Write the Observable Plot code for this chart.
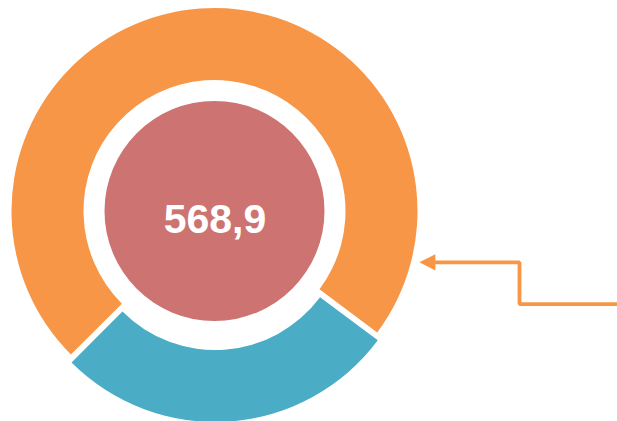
<!DOCTYPE html>
<html>
<head>
<meta charset="utf-8">
<script src="https://cdn.jsdelivr.net/npm/d3@7"></script>
<script src="https://cdn.jsdelivr.net/npm/@observablehq/plot@0.6"></script>
<style>
  html, body { margin: 0; padding: 0; background: #ffffff; overflow: hidden; }
</style>
</head>
<body>
<div id="chart"></div>
<script>
// ---- data ----
const categories = ["Segment A", "Segment B"];
const values = [413.6, 155.3];
const total = d3.sum(values);            // shown in the centre: 568,9
const exploded = [false, true];

// ---- styles / layout (not data) ----
const sliceColors = ["#F79646", "#4BACC6"];
const centerColor = "#CD7371";
const W = 617, H = 421;
const R = 203;                 // outer radius in px (1 unit)
const cxPx = 214.5, cyPx = 211;
const innerFrac = 131 / 203;
const centerFrac = 110 / 203;
const explodePx = 8;
const startAngle = 225 * Math.PI / 180;

// callout annotation, in radius units (centre = 0,0)
const calloutPath = [
  {x: 2.05, y: -0.456},
  {x: 1.5,  y: -0.456},
  {x: 1.5,  y: -0.251},
  {x: 1.07, y: -0.251}
];
const arrowHead = [
  {x: 1.009, y1: -0.253, y2: -0.253},
  {x: 1.088, y1: -0.293, y2: -0.213}
];

const slices = categories.map((c, i) => ({category: c, value: values[i], exploded: exploded[i]}));

const color = Plot.scale({color: {type: "ordinal", domain: categories, range: sliceColors}});

function donut(index, scales, vals, dimensions, context) {
  const x = scales.x, y = scales.y;
  const cx = x(0), cy = y(0);
  const r = x(1) - x(0);
  const pie = d3.pie().sort(null).value(d => d.value)
    .startAngle(startAngle).endAngle(startAngle + 2 * Math.PI);
  const arc = d3.arc().innerRadius(r * innerFrac).outerRadius(r);
  const g = d3.create("svg:g");
  for (const a of pie(slices)) {
    const mid = (a.startAngle + a.endAngle) / 2;
    const off = a.data.exploded ? explodePx : 0;
    g.append("path")
      .attr("d", arc(a))
      .attr("fill", color.apply(a.data.category))
      .attr("transform", `translate(${cx + Math.sin(mid) * off},${cy - Math.cos(mid) * off})`);
  }
  g.append("circle")
    .attr("cx", cx).attr("cy", cy)
    .attr("r", r * centerFrac)
    .attr("fill", centerColor);
  return g.node();
}

const fmt = v => v.toFixed(1).replace(".", ",");

const chart = Plot.plot({
  width: W,
  height: H,
  margin: 0,
  style: {fontFamily: "'Liberation Sans', Arial, sans-serif", background: "#ffffff"},
  x: {domain: [-cxPx / R, (W - cxPx) / R], axis: null},
  y: {domain: [-(H - cyPx) / R, cyPx / R], axis: null},
  marks: [
    donut,
    Plot.text([total], {
      x: () => 0, y: () => 0,
      text: d => fmt(d),
      fill: "#ffffff",
      fontSize: 41,
      fontWeight: "bold",
      dy: 8
    }),
    Plot.line(calloutPath, {x: "x", y: "y", stroke: "#F79646", strokeWidth: 3.8, strokeLinejoin: "miter", strokeLinecap: "butt"}),
    Plot.areaY(arrowHead, {x: "x", y1: "y1", y2: "y2", fill: "#F79646"})
  ]
});

document.getElementById("chart").appendChild(chart);
</script>
</body>
</html>
